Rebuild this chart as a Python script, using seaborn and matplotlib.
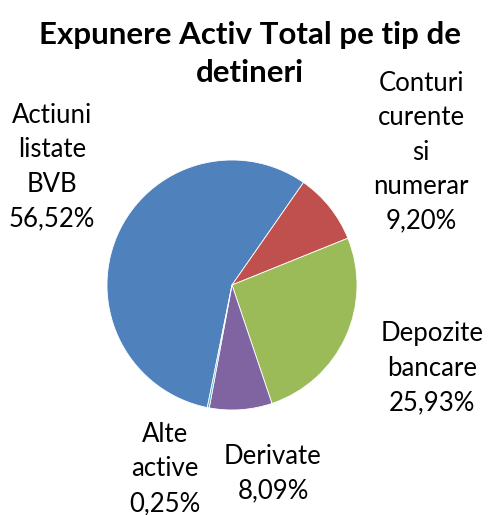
import matplotlib

matplotlib.use("Agg")
import matplotlib.pyplot as plt
import seaborn as sns

# Data.
categories = ["Actiuni\nlistate\nBVB", "Conturi\ncurente\nsi\nnumerar", "Depozite\nbancare",
              "Derivate", "Alte\nactive"]
values = [56.52, 9.20, 25.93, 8.09, 0.25]
colors = ["#4F81BD", "#C0504D", "#9BBB59", "#8064A2", "#4BACC6"]

# Label centres in pixels (x, y from top).
label_pos = [(52, 167), (421, 152), (432, 368), (273, 474), (165, 469)]

W, H = 488, 515

sns.set_style("white")
plt.rcParams["font.family"] = ["Lato", "DejaVu Sans"]
plt.rcParams["text.color"] = "#000000"

fig = plt.figure(figsize=(W / 100, H / 100), dpi=100)
ax = fig.add_axes([107 / W, (H - 410) / H, 250 / W, 250 / H])

ax.pie(
    values,
    colors=sns.color_palette(colors),
    startangle=-101.4,
    counterclock=False,
    wedgeprops={"edgecolor": "white", "linewidth": 0.6},
)
ax.set_xlim(-1, 1)
ax.set_ylim(-1, 1)

for cat, val, (px, py) in zip(categories, values, label_pos):
    text = "{}\n{}%".format(cat, "{:.2f}".format(val).replace(".", ","))
    fig.text(px / W, 1 - py / H, text, ha="center", va="center",
             fontsize=18.5, linespacing=1.47, color="#000000")

fig.text(250 / W, 1 - 54 / H, "Expunere Activ Total pe tip de\ndetineri",
         ha="center", va="center", fontsize=22.5, fontweight="bold",
         linespacing=1.4, color="#000000")

fig.savefig("out.png", dpi=100)
plt.close()
